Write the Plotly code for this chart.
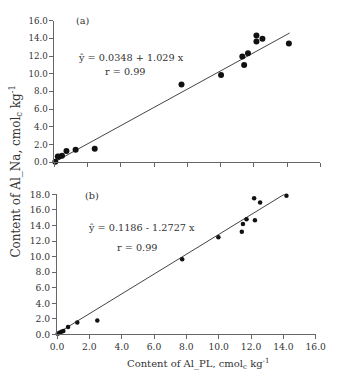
import plotly.graph_objects as go

# Panel (a): Al_PL vs Al_Na
x_a = [0.05, 0.2, 0.25, 0.45, 0.72, 1.27, 2.42, 7.64, 10.02, 11.3, 11.41, 11.64, 12.15, 12.15, 12.51, 14.1]
y_a = [0.05, 0.66, 0.62, 0.73, 1.28, 1.42, 1.53, 8.77, 9.86, 11.95, 10.99, 12.3, 14.32, 13.63, 13.95, 13.4]
int_a, slope_a = 0.0348, 1.029

# Panel (b)
x_b = [0.04, 0.15, 0.27, 0.39, 0.68, 1.25, 2.49, 7.74, 9.98, 11.43, 11.5, 11.72, 12.19, 12.24, 12.56, 14.19]
y_b = [0.08, 0.2, 0.33, 0.45, 0.95, 1.54, 1.79, 9.66, 12.5, 13.2, 14.2, 14.8, 17.5, 14.66, 16.95, 17.83]
int_b, slope_b = 0.1186, 1.2727

tick_vals_x = [0, 2, 4, 6, 8, 10, 12, 14, 16]
tick_vals_ya = [0, 2, 4, 6, 8, 10, 12, 14, 16]
tick_vals_yb = [0, 2, 4, 6, 8, 10, 12, 14, 16, 18]

W, H = 339, 377
FONT = "DejaVu Serif"
TXT = "#333333"
AX = "#666666"

fig = go.Figure()

line_xa = [0, max(x_a) + 0.05]
line_xb = [0, max(x_b)]

fig.add_trace(go.Scatter(x=line_xa, y=[int_a + slope_a * v for v in line_xa], mode="lines",
                         line=dict(color="#444444", width=1), xaxis="x", yaxis="y", cliponaxis=False))
fig.add_trace(go.Scatter(x=x_a, y=y_a, mode="markers", marker=dict(color="#111111", size=6),
                         xaxis="x", yaxis="y", cliponaxis=False))
fig.add_trace(go.Scatter(x=line_xb, y=[int_b + slope_b * v for v in line_xb], mode="lines",
                         line=dict(color="#444444", width=1), xaxis="x2", yaxis="y2", cliponaxis=False))
fig.add_trace(go.Scatter(x=x_b, y=y_b, mode="markers", marker=dict(color="#111111", size=4.5),
                         xaxis="x2", yaxis="y2", cliponaxis=False))

def px_x(p):
    return p / W

def px_y(p):
    return 1 - p / H

common = dict(showgrid=False, zeroline=False, showline=True, linecolor=AX, linewidth=1,
              ticks="outside", ticklen=4, tickcolor=AX, tickwidth=1, tickformat=".1f")

fig.update_layout(
    width=W, height=H, margin=dict(l=0, r=0, t=0, b=0),
    paper_bgcolor="white", plot_bgcolor="white", showlegend=False,
    font=dict(family=FONT, color=TXT, size=9),
    xaxis=dict(common, domain=[px_x(50), px_x(330)], range=[0, 16], tickvals=tick_vals_x,
               showticklabels=False, anchor="y"),
    yaxis=dict(common, domain=[px_y(161), px_y(15)], range=[0, 16], tickvals=tick_vals_ya,
               anchor="x", tickfont=dict(size=8.7)),
    xaxis2=dict(common, domain=[px_x(52.7), px_x(325)], range=[0, 16], tickvals=tick_vals_x,
                anchor="y2", tickfont=dict(size=9.2)),
    yaxis2=dict(common, domain=[px_y(338.3), px_y(194)], range=[0, 18], tickvals=tick_vals_yb,
                anchor="x2", tickfont=dict(size=9.2)),
)

def ann(text, x, y, size=9.7, angle=0, xanchor="center"):
    fig.add_annotation(text=text, x=px_x(x), y=px_y(y), xref="paper", yref="paper",
                       showarrow=False, font=dict(size=size, family=FONT, color=TXT),
                       textangle=angle, xanchor=xanchor, yanchor="middle")

ann("(a)", 80, 15)
ann("ŷ = 0.0348 + 1.029 x", 73, 53, xanchor="left")
ann("r = 0.99", 124, 67)
ann("(b)", 89, 195)
ann("ŷ = 0.1186 - 1.2727 x", 83, 228, xanchor="left")
ann("r = 0.99", 137, 249)
ann("Content of Al_PL, cmol<sub>c</sub> kg<sup>-1</sup>", 201, 369, size=10)
ann("Content of Al_Na, cmol<sub>c</sub> kg<sup>-1</sup>", 9, 170, size=12, angle=-90)

fig.write_html("out.html")
